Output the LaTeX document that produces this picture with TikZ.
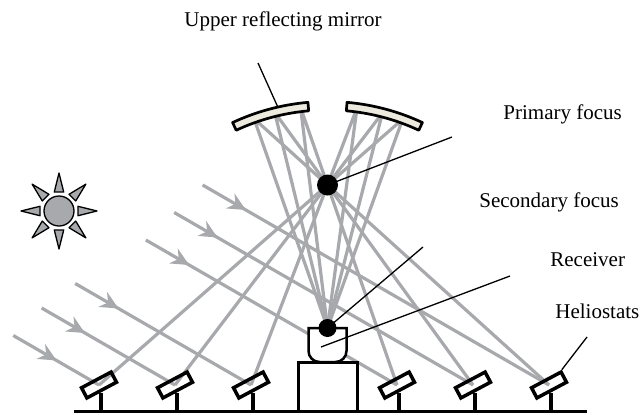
\documentclass[tikz,border=0pt]{standalone}
\usepackage{fontspec}
\setmainfont{Liberation Serif}
\usetikzlibrary{arrows.meta,decorations.markings}
\definecolor{raygray}{RGB}{167,169,172}
\definecolor{mirrorcream}{RGB}{236,233,222}

\begin{document}
\begin{tikzpicture}[x=.5pt,y=.5pt,
  ray/.style={raygray,line width=1.6pt},
  sunray/.style={ray,postaction={decorate},
    decoration={markings,mark=at position 25pt with {\arrow{Stealth[length=9pt,width=8.5pt,inset=3pt]}}}},
  sunpart/.style={draw=black,fill=raygray,line width=.65pt,line join=round},
  mirror/.style={draw=black,fill=mirrorcream,line width=1.35pt,line join=round},
  helio/.style={draw=black,rectangle,line width=1.75pt,minimum width=16.75pt,minimum height=5.75pt,inner sep=0pt,rotate=28},
  post/.style={line width=1.6pt},
  leader/.style={line width=.65pt},
  tag/.style={inner sep=0pt,font=\fontsize{10.5}{12.6}\selectfont}]
\path[use as bounding box] (0,0) rectangle (642,414);

% sun
\begin{scope}[shift={(59,203)}]
\foreach \a in {0,45,...,315}
  \draw[sunpart] (\a:38) -- (\a+14:19.5) -- (\a-14:19.5) -- cycle;
\draw[sunpart] (0,0) circle[radius=15];
\end{scope}

% foci and heliostat positions
\coordinate (f1) at (327.5,229);
\coordinate (f2) at (327.5,86);
\foreach \n/\x in {1/99,2/175,3/251,4/397,5/473,6/549}
  \coordinate (h\n) at (\x,29);

% where each beam meets the upper mirror
\coordinate (m1) at (402.6,294.8);
\coordinate (m2) at (382.4,301.0);
\coordinate (m3) at (357.0,306.1);
\coordinate (m4) at (300.6,306.4);
\coordinate (m5) at (274.7,301.6);
\coordinate (m6) at (254.0,295.4);

% incoming sunlight
\foreach \n/\len in {1/99,2/154,3/203,4/290,5/345,6/400} {
  \path (h\n) ++(150:\len) coordinate (s\n);
  \draw[sunray] (s\n) -- (h\n);
}

% reflected beams: heliostat -> primary focus -> mirror -> secondary focus
\foreach \n in {1,...,6}
  \draw[ray,line join=round] (h\n) -- (m\n) -- (f2);

% upper reflecting mirror
\draw[mirror,shift={(327.5,88)}] (95:216) arc[start angle=95,end angle=115,radius=216]
  -- (115:224.5) arc[start angle=115,end angle=95,radius=224.5] -- cycle;
\draw[mirror,shift={(327.5,88)}] (65:216) arc[start angle=65,end angle=85,radius=216]
  -- (85:224.5) arc[start angle=85,end angle=65,radius=224.5] -- cycle;

% tower and receiver
\draw[fill=white,line width=1.75pt] (298.5,2.5) rectangle (357.5,51.5);
\draw[fill=white,line width=1.25pt] (308.5,86) -- (308.5,63)
  arc[start angle=180,end angle=270,radius=11] -- (335.5,52)
  arc[start angle=270,end angle=360,radius=11] -- (346.5,86) -- cycle;
\fill (f1) circle[radius=10.5];
\fill (f2) circle[radius=9];

% heliostats
\foreach \n/\x in {1/99,2/175,3/251,4/397,5/473,6/549} {
  \draw[post] (\x+2,2.5) -- (\x+2,21.5);
  \node[helio] (hs\n) at (h\n) {};
}
\draw[line width=1.75pt] (74,2.5) -- (587,2.5);

% labels
\node[tag,anchor=base] (tmirror) at (283,388) {Upper reflecting mirror};
\node[tag,anchor=base west] (tprim) at (503,295) {Primary focus};
\node[tag,anchor=base west] (tsec) at (479,207) {Secondary focus};
\node[tag,anchor=base west] (trec) at (550,148) {Receiver};
\node[tag,anchor=base west] (thel) at (555,96) {Heliostats};

\coordinate (lm) at (258,351);
\coordinate (um) at (278,306.5);
\coordinate (lp) at (452,277);
\coordinate (ls) at (423,167);
\coordinate (lr) at (510,138);
\coordinate (rx) at (321,67);
\coordinate (lh) at (587,77);
\draw[leader] (lm) -- (um);
\draw[leader] (lp) -- (f1);
\draw[leader] (ls) -- (f2);
\draw[leader] (lr) -- (rx);
\draw[leader] (lh) -- (hs6.north east);
\end{tikzpicture}
\end{document}
